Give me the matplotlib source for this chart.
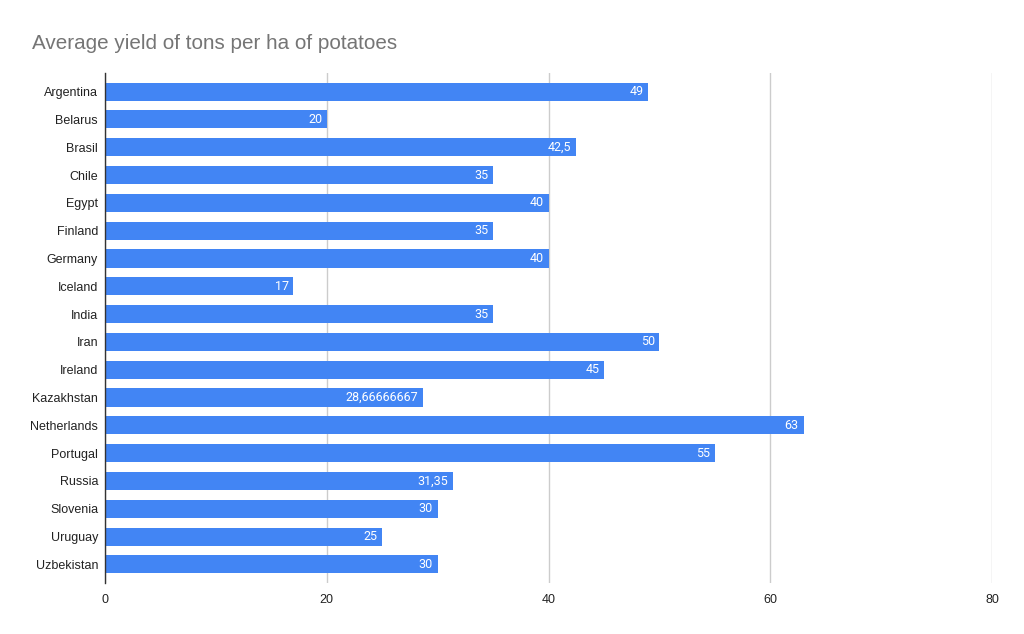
import matplotlib
matplotlib.use("Agg")
import matplotlib.pyplot as plt

countries = ["Argentina", "Belarus", "Brasil", "Chile", "Egypt", "Finland", "Germany",
             "Iceland", "India", "Iran", "Ireland", "Kazakhstan", "Netherlands",
             "Portugal", "Russia", "Slovenia", "Uruguay", "Uzbekistan"]
yields = [49, 20, 42.5, 35, 40, 35, 40, 17, 35, 50, 45, 28.66666667, 63, 55, 31.35, 30, 25, 30]
xticks = [0, 20, 40, 60, 80]
title = "Average yield of tons per ha of potatoes"

arial = ['Liberation Sans', 'DejaVu Sans']
roboto = ['Roboto', 'DejaVu Sans']
plt.rcParams['font.family'] = arial

fig = plt.figure(figsize=(10.24, 6.34), dpi=100)
ax = fig.add_axes([105/1024, 1-583/634, (992-105)/1024, (583-73)/634])

pos = list(range(len(countries)))
bars = ax.barh(pos, yields, height=0.65, color="#4285F4", zorder=3)

def fmt(v):
    s = f"{v:.8f}".rstrip('0').rstrip('.')
    return s.replace('.', ',')

for p, v in zip(pos, yields):
    ax.text(v - 0.42, p, fmt(v), color="white", ha="right", va="center",
            fontsize=9, family=roboto, zorder=4)

ax.set_xlim(0, 80)
ax.set_ylim(len(countries) - 1 + 0.67, -0.67)
ax.set_yticks(pos)
ax.set_yticklabels(countries, fontsize=9, color="#222222")
ax.set_xticks(xticks)
ax.set_xticklabels([str(t) for t in xticks], fontsize=9, color="#222222")
ax.tick_params(axis='both', length=0)
ax.tick_params(axis='y', pad=5)
ax.tick_params(axis='x', pad=8)
ax.xaxis.grid(True, color="#cccccc", linewidth=1, zorder=0)
for s in ["top", "right", "bottom"]:
    ax.spines[s].set_visible(False)
ax.spines["left"].set_color("#333333")
ax.spines["left"].set_linewidth(1)
ax.spines["left"].set_zorder(5)

fig.text(32/1024, 1-49/634, title, fontsize=14.9, color="#757575", ha="left", va="baseline")

fig.savefig("out.png", dpi=100, facecolor="white")
